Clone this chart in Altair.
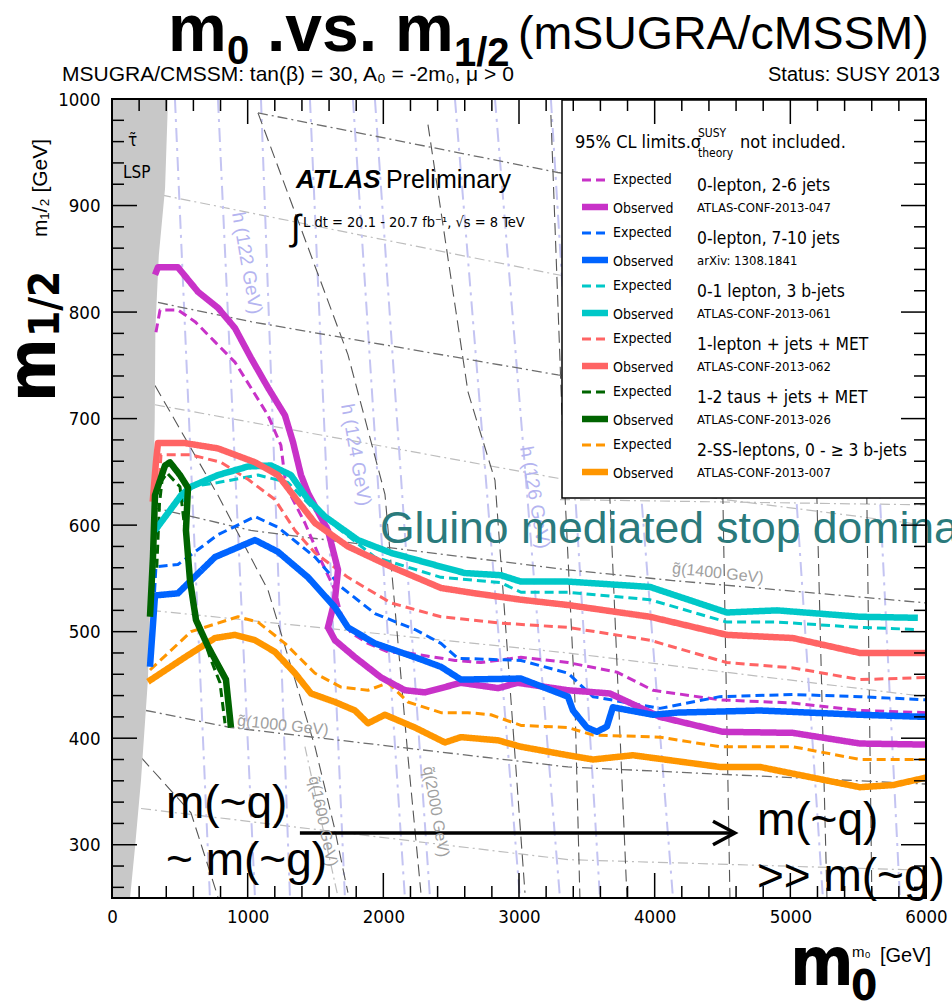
import altair as alt
import pandas as pd

NARROW = "DejaVu Sans Condensed, Liberation Sans Narrow, sans-serif"
SANS = "Liberation Sans, Arial, Helvetica, sans-serif"
W, H = 814, 799

# ---------------- axis ticks ----------------
x_major = [0, 1000, 2000, 3000, 4000, 5000, 6000]
y_major = [300, 400, 500, 600, 700, 800, 900, 1000]
x_minor = [v for v in range(200, 6000, 200) if v % 1000]
y_minor = [v for v in range(260, 1000, 20) if v % 100]

# ---------------- stau LSP region boundary ----------------
lsp_m0 = [413, 391, 345, 320, 315, 305, 287, 265, 214, 170, 133]
lsp_m12 = [1000, 916, 853, 785, 700, 628, 548, 455, 361, 298, 250]

# ---------------- limit contours ----------------
mag_obs_m0 = [317, 339, 486, 634, 781, 906, 1024, 1150, 1275, 1334, 1393, 1445, 1592, 1666, 1643, 1592, 1643, 1791, 1983, 2160, 2307, 2572, 2845, 2992, 3361, 3670, 4039, 4503, 5019, 5513, 6000]
mag_obs_m12 = [835, 842, 842, 819, 804, 785, 757, 729, 703, 678, 647, 630, 595, 558, 530, 504, 492, 476, 457, 445, 443, 452, 447, 452, 445, 442, 420, 406, 405, 395, 394]
mag_exp_m0 = [324, 354, 486, 612, 759, 906, 1024, 1150, 1245, 1275, 1297, 1422, 1540, 1643, 1688, 1761, 1887, 2034, 2181, 2528, 2720, 3014, 3361, 3722, 3987, 4481, 5019, 5513, 6000]
mag_exp_m12 = [781, 802, 802, 791, 772, 753, 729, 703, 675, 644, 633, 602, 567, 539, 517, 499, 489, 481, 480, 473, 471, 476, 471, 462, 445, 436, 433, 426, 424]

blue_obs_m0 = [280, 317, 486, 759, 1054, 1223, 1445, 1643, 1739, 1938, 2233, 2425, 2572, 3014, 3361, 3398, 3501, 3574, 3648, 3692, 3987, 4164, 4776, 5513, 6000]
blue_obs_m12 = [467, 534, 536, 570, 586, 575, 551, 523, 504, 489, 476, 467, 455, 456, 439, 426, 410, 406, 411, 429, 422, 424, 426, 422, 420]
blue_exp_m0 = [302, 324, 486, 781, 1054, 1223, 1496, 1688, 1938, 2233, 2425, 2550, 3014, 3361, 3545, 4039, 4481, 5019, 5513, 6000]
blue_exp_m12 = [511, 561, 563, 591, 608, 598, 570, 542, 517, 502, 489, 475, 473, 461, 439, 428, 439, 441, 439, 436]

cyan_obs_m0 = [317, 509, 582, 781, 1002, 1172, 1319, 1445, 1570, 1813, 2056, 2425, 2602, 2867, 3014, 3361, 3965, 4532, 4901, 5513, 5940]
cyan_obs_m12 = [595, 628, 636, 647, 655, 656, 647, 624, 608, 586, 574, 561, 555, 553, 547, 547, 542, 518, 520, 514, 513]
cyan_exp_m0 = [520, 582, 781, 1076, 1297, 1496, 1688, 1938, 2425, 2867, 3014, 3361, 3965, 4532, 4901, 5513, 5940]
cyan_exp_m12 = [622, 636, 640, 647, 640, 614, 595, 570, 551, 546, 537, 537, 530, 509, 509, 504, 502]

red_obs_m0 = [300, 324, 339, 538, 781, 1054, 1223, 1349, 1496, 1739, 2056, 2425, 2675, 3014, 3361, 3965, 4532, 5019, 5513, 6000]
red_obs_m12 = [622, 659, 677, 677, 672, 659, 647, 626, 602, 580, 561, 541, 536, 530, 525, 514, 497, 494, 480, 480]
red_exp_m0 = [345, 361, 582, 803, 1002, 1201, 1349, 1496, 1739, 2056, 2425, 2867, 3361, 3965, 4532, 5019, 5513, 6000]
red_exp_m12 = [632, 666, 666, 659, 643, 624, 595, 574, 551, 527, 514, 508, 504, 492, 471, 466, 455, 457]

green_obs_m0 = [280, 302, 317, 391, 427, 501, 560, 545, 575, 619, 708, 840, 877]
green_obs_m12 = [514, 570, 628, 656, 659, 647, 635, 595, 548, 511, 486, 455, 410]
green_exp_m0 = [330, 350, 369, 405, 501, 538, 575, 626, 722, 796, 833]
green_exp_m12 = [560, 620, 642, 649, 636, 595, 548, 514, 476, 452, 414]

orange_obs_m0 = [265, 538, 759, 906, 1054, 1201, 1349, 1467, 1643, 1791, 1887, 2012, 2233, 2454, 2572, 2845, 3014, 3361, 3545, 3840, 4481, 4776, 5513, 5756, 6000]
orange_obs_m12 = [453, 476, 494, 497, 492, 481, 461, 442, 434, 426, 414, 422, 410, 396, 401, 398, 392, 384, 380, 384, 373, 373, 354, 356, 363]
orange_exp_m0 = [280, 582, 781, 929, 1076, 1275, 1496, 1688, 1887, 2034, 2181, 2425, 2624, 2793, 3014, 3361, 3545, 4039, 4481, 5019, 5513, 6000]
orange_exp_m12 = [464, 500, 508, 514, 509, 489, 461, 448, 445, 452, 434, 424, 424, 422, 412, 410, 403, 401, 392, 392, 380, 380]

legend_keys = ["mag", "blue", "cyan", "red", "green", "orange"]
legend_colors = ["#c832c8", "#0064ff", "#00c8c8", "#ff6464", "#006400", "#ff9600"]
legend_names = ["0-lepton, 2-6 jets", "0-lepton, 7-10 jets", "0-1 lepton, 3 b-jets",
                "1-lepton + jets + MET", "1-2 taus + jets + MET", "2-SS-leptons, 0 - \u2265 3 b-jets"]
legend_refs = ["ATLAS-CONF-2013-047", "arXiv: 1308.1841", "ATLAS-CONF-2013-061",
               "ATLAS-CONF-2013-062", "ATLAS-CONF-2013-026", "ATLAS-CONF-2013-007"]

# ---------------- background mass contours ----------------
higgs_top_m0 = [464, 781, 1098, 1459, 1776, 1938, 2528, 2823, 3235, 3670, 4849, 5513]
higgs_bot_m0 = [722, 1054, 1312, 1717, 2159, 2344, 3007, 3302, 3597, 4135, 5240, 5808]
squark_lines = [
    ([1076, 1739, 2012, 2182, 2277], [987, 760, 629, 382, 255]),
    ([2329, 2624, 2823, 3044], [976, 725, 642, 255]),
    ([3235, 3339, 3412, 3449], [985, 628, 436, 250]),
    ([3600, 3670, 3796], [800, 625, 250]),
    ([4450, 4503, 4555], [800, 625, 250]),
    ([5150, 5196, 5270], [800, 625, 250]),
    ([5530, 5564, 5601], [800, 625, 250]),
    ([317, 781, 1150, 1349, 1496, 1643, 1739], [731, 628, 539, 455, 392, 314, 255]),
    ([214, 582, 781], [382, 330, 251]),
]
gluino_lines = [
    ([251, 877, 3361, 6000], [426, 410, 373, 357]),
    ([287, 1024, 3361, 4135, 6000], [617, 595, 558, 548, 527]),
    ([339, 1024, 3287, 6000], [809, 791, 741, 700]),
    ([1076, 3287, 6000], [987, 931, 880]),
]
light_lines = [
    ([361, 3287, 6000], [910, 835, 770]),
    ([317, 3287, 6000], [713, 644, 600]),
    ([287, 3361, 6000], [520, 480, 439]),
    ([214, 3361, 6000], [334, 286, 276]),
    ([3302, 6000], [624, 619]),
    ([1422, 1666], [392, 251]),
]

# ---------------- build tables ----------------
series = [
    ("mag", "exp", mag_exp_m0, mag_exp_m12), ("blue", "exp", blue_exp_m0, blue_exp_m12),
    ("cyan", "exp", cyan_exp_m0, cyan_exp_m12), ("red", "exp", red_exp_m0, red_exp_m12),
    ("orange", "exp", orange_exp_m0, orange_exp_m12), ("green", "exp", green_exp_m0, green_exp_m12),
    ("mag", "obs", mag_obs_m0, mag_obs_m12), ("blue", "obs", blue_obs_m0, blue_obs_m12),
    ("cyan", "obs", cyan_obs_m0, cyan_obs_m12), ("red", "obs", red_obs_m0, red_obs_m12),
    ("orange", "obs", orange_obs_m0, orange_obs_m12), ("green", "obs", green_obs_m0, green_obs_m12),
]
rows = []
for key, kind, a, b in series:
    for i, (u, v) in enumerate(zip(a, b)):
        rows.append(dict(key=key, kind=kind, id=f"{key}_{kind}", i=i, m0=u, m12=v))
curves = pd.DataFrame(rows)


def lines_df(lst):
    r = []
    for k, (a, b) in enumerate(lst):
        for i, (u, v) in enumerate(zip(a, b)):
            r.append(dict(id=k, i=i, m0=u, m12=v))
    return pd.DataFrame(r)


higgs_df = lines_df([([t, bt], [1000, 250]) for t, bt in zip(higgs_top_m0, higgs_bot_m0)])
squark_df = lines_df(squark_lines)
gluino_df = lines_df(gluino_lines)
light_df = lines_df(light_lines)
lsp_df = pd.DataFrame({"m0": lsp_m0, "m12": lsp_m12})
one = pd.DataFrame({"a": [0]})

xs = alt.Scale(domain=[0, 6000], nice=False, zero=False)
ys = alt.Scale(domain=[250, 1000], nice=False, zero=False)
xaxis = alt.Axis(values=x_major, format="d", tickSize=0, domain=False, grid=False, labelFont=NARROW,
                 labelFontSize=18.5, labelPadding=9, labelColor="black", title=None, labelFlush=False)
yaxis = alt.Axis(values=y_major, format="d", tickSize=0, domain=False, grid=False, labelFont=NARROW,
                 labelFontSize=18.5, labelPadding=12, labelColor="black", title=None, labelFlush=False)


def X(f="m0"):
    return alt.X(f"{f}:Q", scale=xs, axis=xaxis)


def Y(f="m12"):
    return alt.Y(f"{f}:Q", scale=ys, axis=yaxis)


color_scale = alt.Scale(domain=legend_keys, range=legend_colors)
dash_scale = alt.Scale(domain=["obs", "exp"], range=[[1, 0], [9, 5]])
width_scale = alt.Scale(domain=["obs", "exp"], range=[6.5, 3])


def bg(df, color, dash, w=1.2):
    return alt.Chart(df).mark_line(clip=True, color=color, strokeDash=dash, strokeWidth=w).encode(
        x=X(), y=Y(), detail="id:N", order="i:Q")


def ptext(rows, **kw):
    df = pd.DataFrame(rows)
    enc = dict(x=alt.X("px:Q", scale=None, axis=None), y=alt.Y("py:Q", scale=None, axis=None), text="t:N")
    if "fs" in df:
        enc["size"] = alt.Size("fs:Q", scale=None, legend=None)
    if "ang" in df:
        enc["angle"] = alt.Angle("ang:Q", scale=None, legend=None)
    return alt.Chart(df).mark_text(**kw).encode(**enc)


def dtext(rows, **kw):
    df = pd.DataFrame(rows)
    enc = dict(x=X(), y=Y(), text="t:N")
    if "fs" in df:
        enc["size"] = alt.Size("fs:Q", scale=None, legend=None)
    if "ang" in df:
        enc["angle"] = alt.Angle("ang:Q", scale=None, legend=None)
    return alt.Chart(df).mark_text(**kw).encode(**enc)


layers = []
layers.append(bg(light_df, "#bdbdbd", [10, 4, 2, 4]))
layers.append(bg(higgs_df, "#c4c4f2", [14, 6, 3, 6], 2))
layers.append(bg(squark_df, "#555555", [12, 6], 1.1))
layers.append(bg(gluino_df, "#6e6e6e", [10, 4, 2, 4], 1.3))

# stau LSP area
layers.append(alt.Chart(lsp_df).mark_area(orient="horizontal", color="#c8c8c8", clip=True).encode(
    y=Y(), x=X(), x2=alt.datum(0)))

# limit contours
for kind in ["exp", "obs"]:
    layers.append(alt.Chart(curves[curves.kind == kind]).mark_line(clip=True, strokeCap="butt", strokeJoin="round").encode(
        x=X(), y=Y(), detail="id:N", order="i:Q",
        color=alt.Color("key:N", scale=color_scale, legend=None),
        strokeDash=alt.StrokeDash("kind:N", scale=dash_scale, legend=None),
        strokeWidth=alt.StrokeWidth("kind:N", scale=width_scale, legend=None)))

# arrow
arrow_df = pd.DataFrame({"id": [0, 0, 1, 1, 1], "i": [0, 1, 0, 1, 2],
                         "m0": [1385, 4591, 4430, 4591, 4430], "m12": [311, 311, 322, 311, 300]})
layers.append(alt.Chart(arrow_df).mark_line(color="black", strokeWidth=3.5, strokeJoin="miter").encode(
    x=X(), y=Y(), detail="id:N", order="i:Q"))

# in-plot annotations
layers.append(dtext([{"m0": 995, "m12": 846, "t": "h (122 GeV)", "ang": 80},
                     {"m0": 1798, "m12": 666, "t": "h (124 GeV)", "ang": 80},
                     {"m0": 3117, "m12": 626, "t": "h (126 GeV)", "ang": 80}],
                    font=SANS, fontSize=19, color="#b4b4f0"))
layers.append(dtext([{"m0": 1260, "m12": 412, "t": "g\u0303(1000 GeV)", "ang": 6},
                     {"m0": 4466, "m12": 555, "t": "g\u0303(1400 GeV)", "ang": 6},
                     {"m0": 1555, "m12": 322, "t": "q\u0303(1600 GeV)", "ang": 78},
                     {"m0": 2388, "m12": 331, "t": "q\u0303(2000 GeV)", "ang": 80}],
                    font=SANS, fontSize=16, color="#a0a0a0"))
layers.append(dtext([{"m0": 118, "m12": 956, "t": "\u03c4\u0303"}, {"m0": 81, "m12": 926, "t": "LSP"}],
                    font=NARROW, fontSize=17, align="left", baseline="alphabetic", color="black"))
layers.append(dtext([{"m0": 1356, "m12": 916, "t": "ATLAS"}], font=SANS, fontSize=26, fontWeight="bold",
                    fontStyle="italic", align="left", baseline="alphabetic", color="black"))
layers.append(dtext([{"m0": 2019, "m12": 916, "t": "Preliminary"}], font=SANS, fontSize=25,
                    align="left", baseline="alphabetic", color="black"))
layers.append(dtext([{"m0": 1319, "m12": 868, "t": "\u222b"}], font=SANS, fontSize=36,
                    align="left", baseline="alphabetic", color="black"))
layers.append(dtext([{"m0": 1408, "m12": 880, "t": "L dt = 20.1 - 20.7 fb\u207b\u00b9, \u221as = 8 TeV"}],
                    font=NARROW, fontSize=14.5, align="left", baseline="alphabetic", color="black"))
layers.append(dtext([{"m0": 1975, "m12": 583, "t": "Gluino mediated stop dominance"}], font=SANS,
                    fontSize=44.5, align="left", baseline="alphabetic", color="#2a7a7c"))
layers.append(dtext([{"m0": 398, "m12": 325, "t": "m(~q)"}, {"m0": 398, "m12": 272, "t": "~ m(~g)"},
                     {"m0": 4754, "m12": 309, "t": "m(~q)"}, {"m0": 4754, "m12": 257, "t": ">> m(~g)"}],
                    font=SANS, fontSize=46, align="left", baseline="alphabetic", color="black"))

# legend box
layers.append(alt.Chart(one).mark_rect(fill="white", stroke="black", strokeWidth=1.5).encode(
    x=alt.value(450), x2=alt.value(W), y=alt.value(1), y2=alt.value(399)))
leg_rows = []
for k, key in enumerate(legend_keys):
    leg_rows.append(dict(key=key, kind="exp", py=81 + 53 * k))
    leg_rows.append(dict(key=key, kind="obs", py=108 + 53 * k))
leg_df = pd.DataFrame(leg_rows)
layers.append(alt.Chart(leg_df).mark_rule(strokeCap="butt").encode(
    y=alt.Y("py:Q", scale=None, axis=None), x=alt.value(470), x2=alt.value(496),
    color=alt.Color("key:N", scale=color_scale, legend=None),
    strokeDash=alt.StrokeDash("kind:N", scale=dash_scale, legend=None),
    strokeWidth=alt.StrokeWidth("kind:N", scale=width_scale, legend=None)))
lab_rows, name_rows, ref_rows = [], [], []
for k in range(len(legend_keys)):
    lab_rows.append(dict(px=501, py=85 + 53 * k, t="Expected"))
    lab_rows.append(dict(px=501, py=114 + 53 * k, t="Observed"))
    name_rows.append(dict(px=585, py=92 + 53 * k, t=legend_names[k]))
    ref_rows.append(dict(px=585, py=113 + 53 * k, t=legend_refs[k]))
layers.append(ptext(lab_rows, font=NARROW, fontSize=14, align="left", baseline="alphabetic", color="black"))
layers.append(ptext(name_rows, font=NARROW, fontSize=17.3, align="left", baseline="alphabetic", color="black"))
layers.append(ptext(ref_rows, font=NARROW, fontSize=13, align="left", baseline="alphabetic", color="black"))
layers.append(ptext([dict(px=463, py=49, t="95% CL limits.\u03c3", fs=18),
                     dict(px=586, py=38, t="SUSY", fs=12),
                     dict(px=586, py=58, t="theory", fs=12),
                     dict(px=628, py=49, t="not included.", fs=18)],
                    font=NARROW, align="left", baseline="alphabetic", color="black"))

# ticks
def tick_df(v):
    return pd.DataFrame({"v": v})

for vals, ln in [(x_major, 25), (x_minor, 12)]:
    layers.append(alt.Chart(tick_df(vals)).mark_rule(color="black", strokeWidth=1.5).encode(
        x=X("v"), y=alt.value(H), y2=alt.value(H - ln)))
    layers.append(alt.Chart(tick_df(vals)).mark_rule(color="black", strokeWidth=1.5).encode(
        x=X("v"), y=alt.value(0), y2=alt.value(ln)))
for vals, ln in [(y_major, 25), (y_minor, 12)]:
    layers.append(alt.Chart(tick_df(vals)).mark_rule(color="black", strokeWidth=1.5).encode(
        y=Y("v"), x=alt.value(0), x2=alt.value(ln)))
    layers.append(alt.Chart(tick_df(vals)).mark_rule(color="black", strokeWidth=1.5).encode(
        y=Y("v"), x=alt.value(W - ln), x2=alt.value(W)))

# frame
layers.append(alt.Chart(one).mark_rect(fillOpacity=0, stroke="black", strokeWidth=2).encode(
    x=alt.value(0), x2=alt.value(W), y=alt.value(0), y2=alt.value(H)))

# outside texts (title, axis titles)
layers.append(ptext([dict(px=56, py=-48, t="m", fs=66), dict(px=115, py=-35, t="0", fs=40),
                     dict(px=155, py=-48, t=".vs.", fs=66), dict(px=283, py=-48, t="m", fs=66),
                     dict(px=342, py=-33, t="1/2", fs=40)],
                    font=SANS, fontWeight="bold", align="left", baseline="alphabetic", color="black"))
layers.append(ptext([dict(px=406, py=-50, t="(mSUGRA/cMSSM)", fs=46.5)],
                    font=SANS, align="left", baseline="alphabetic", color="black"))
layers.append(ptext([dict(px=-50, py=-18, t="MSUGRA/CMSSM: tan(\u03b2) = 30, A\u2080 = -2m\u2080, \u03bc > 0")],
                    font=SANS, fontSize=21, align="left", baseline="alphabetic", color="black"))
layers.append(ptext([dict(px=828, py=-18, t="Status: SUSY 2013")],
                    font=SANS, fontSize=20, align="right", baseline="alphabetic", color="black"))
layers.append(ptext([dict(px=-57, py=303, t="m", fs=68, ang=270), dict(px=-53, py=238, t="1/2", fs=42, ang=270)],
                    font=NARROW, fontWeight="bold", align="left", baseline="alphabetic", color="black"))
layers.append(ptext([dict(px=-65, py=138, t="m\u2081/\u2082 [GeV]", ang=270)],
                    font=SANS, fontSize=21, align="left", baseline="alphabetic", color="black"))
layers.append(ptext([dict(px=678, py=886, t="m", fs=68), dict(px=739, py=901, t="0", fs=42)],
                    font=NARROW, fontWeight="bold", align="left", baseline="alphabetic", color="black"))
layers.append(ptext([dict(px=740, py=858, t="m\u2080", fs=15), dict(px=768, py=863, t="[GeV]", fs=20)],
                    font=SANS, align="left", baseline="alphabetic", color="black"))

chart = alt.layer(*layers).properties(
    width=W, height=H,
    padding={"left": 112, "top": 99, "right": 26, "bottom": 104},
    autosize=alt.AutoSizeParams(type="none"),
).configure_view(strokeWidth=0)

chart.save("out.html", embed_options={"renderer": "svg", "actions": False})
